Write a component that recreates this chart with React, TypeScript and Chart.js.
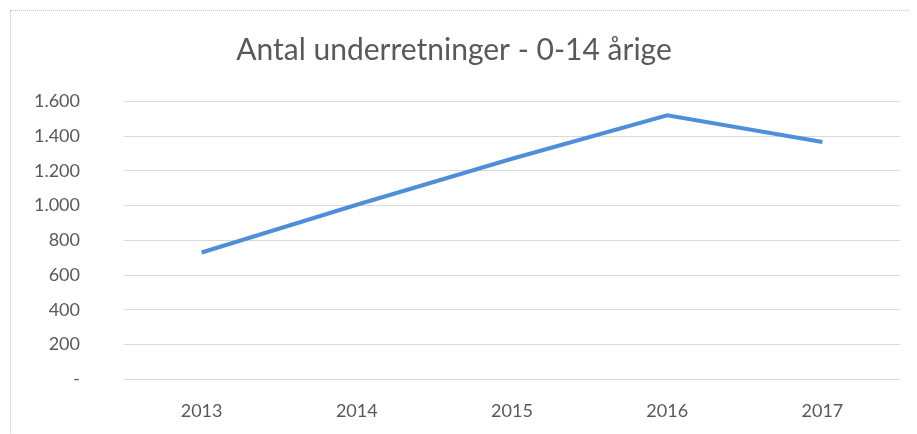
import React, { useEffect, useRef } from "react";
import { Chart, registerables } from "chart.js";

Chart.register(...registerables);

const title = "Antal underretninger - 0-14 årige";
const years = ["2013", "2014", "2015", "2016", "2017"];
const values = [730, 1005, 1270, 1520, 1367];
const yTicks = [0, 200, 400, 600, 800, 1000, 1200, 1400, 1600];

const fmt = (v: number) =>
  v === 0 ? "-" : String(v).replace(/\B(?=(\d{3})+(?!\d))/g, ".");

export default function App() {
  const ref = useRef<HTMLCanvasElement | null>(null);
  useEffect(() => {
    if (!ref.current) return;
    const chart = new Chart(ref.current, {
      type: "line",
      data: {
        labels: years,
        datasets: [
          {
            data: values,
            borderColor: "#4f8fd8",
            borderWidth: 4,
            pointRadius: 0,
            tension: 0,
            fill: false,
          },
        ],
      },
      options: {
        animation: false,
        responsive: false,
        layout: { padding: { left: 0, right: 17, top: 0, bottom: 0 } },
        plugins: {
          legend: { display: false },
          tooltip: { enabled: false },
          title: {
            display: true,
            text: title,
            color: "#595959",
            font: { family: "Lato", size: 30, weight: "normal" },
            padding: { top: 24, bottom: 33.5 },
          },
        },
        scales: {
          x: {
            offset: true,
            border: { display: false },
            grid: { display: false, drawTicks: false },
            ticks: {
              color: "#595959",
              font: { family: "Lato", size: 18 },
              padding: 21,
            },
            afterFit: (s: any) => {
              s.height = 52;
            },
          },
          y: {
            min: 0,
            max: 1600,
            afterBuildTicks: (s: any) => {
              s.ticks = yTicks.map((v) => ({ value: v }));
            },
            border: { display: false },
            grid: { color: "#d9d9d9", lineWidth: 1, drawTicks: false },
            ticks: {
              color: "#595959",
              font: { family: "Lato", size: 18 },
              padding: 44,
              callback: (v: any) => fmt(Number(v)),
            },
            afterFit: (s: any) => {
              s.width = 116;
            },
          },
        },
      },
    });
    return () => chart.destroy();
  }, []);
  return (
    <div style={{ position: "relative", width: 909, height: 426 }}>
      <div
        style={{
          position: "absolute",
          left: 2,
          top: 2,
          width: 920,
          height: 440,
          borderLeft: "1px dotted #c8c8c8",
          borderTop: "1px dotted #c8c8c8",
          boxSizing: "border-box",
        }}
      />
      <canvas
        ref={ref}
        width={909}
        height={426}
        style={{ position: "absolute", left: 0, top: 0 }}
      />
    </div>
  );
}
